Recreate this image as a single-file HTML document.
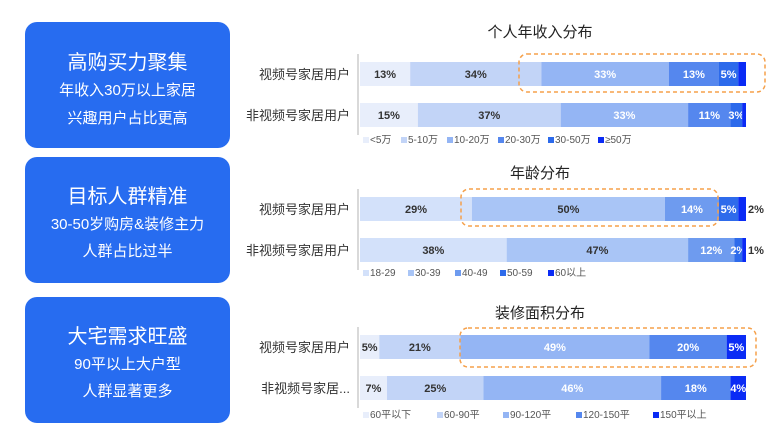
<!DOCTYPE html>
<html><head><meta charset="utf-8"><style>
body{margin:0;width:784px;height:436px;background:#fff;overflow:hidden;font-family:"Liberation Sans","Noto Sans CJK SC",sans-serif;position:relative}
.card{position:absolute;left:25px;width:205px;height:126px;background:#276CF0;border-radius:12px;color:#fff;text-align:center}
.card .t{position:absolute;left:0;right:0;font-size:20px}
.card .s{position:absolute;left:0;right:0;font-size:15px}
svg{position:absolute;left:0;top:0}
</style></head><body>
<div class="card" style="top:22px"><div class="t" style="top:24px">高购买力聚集</div><div class="s" style="top:57px">年收入30万以上家居</div><div class="s" style="top:85px">兴趣用户占比更高</div></div>
<div class="card" style="top:157px"><div class="t" style="top:23px">目标人群精准</div><div class="s" style="top:56px">30-50岁购房&amp;装修主力</div><div class="s" style="top:83px">人群占比过半</div></div>
<div class="card" style="top:297px"><div class="t" style="top:23px">大宅需求旺盛</div><div class="s" style="top:56px">90平以上大户型</div><div class="s" style="top:83px">人群显著更多</div></div>
<svg id="c" width="784" height="436"></svg>
<script>
const rows=["视频号家居用户","非视频号家居用户"];
const rows3=["视频号家居用户","非视频号家居..."];
const incomeCats=["<5万","5-10万","10-20万","20-30万","30-50万","≥50万"];
const incomeA=[13,34,33,13,5,2];
const incomeB=[15,37,33,11,3,1];
const ageCats=["18-29","30-39","40-49","50-59","60以上"];
const ageA=[29,50,14,5,2];
const ageB=[38,47,12,2,1];
const areaCats=["60平以下","60-90平","90-120平","120-150平","150平以上"];
const areaA=[5,21,49,20,5];
const areaB=[7,25,46,18,4];
const NS="http://www.w3.org/2000/svg";
const svg=document.getElementById('c');
function el(t,a,p){const e=document.createElementNS(NS,t);for(const k in a)e.setAttribute(k,a[k]);(p||svg).appendChild(e);return e;}
function txt(x,y,s,a){const e=el('text',Object.assign({x:x,y:y},a));e.textContent=s;return e;}
const charts=[
{title:"个人年收入分布",ty:37,cats:incomeCats,data:[incomeA,incomeB],labels:rows,rowY:[62,103],h:24,legY:143,legX:[363,401,447,498,548,598],
 colors:["#E8EEFB","#C2D4F7","#94B5F4","#5587EE","#2C6AEB","#0A2BF5"],dark:[1,1,0,0,0,0],minLbl:3,outside:false,box:[519,54,246,38],name:"income"},
{title:"年龄分布",ty:178,cats:ageCats,data:[ageA,ageB],labels:rows,rowY:[197,238],h:24,legY:276,legX:[363,408,455,500,548],
 colors:["#D3E1FA","#A9C5F6","#6E9BEF","#2E6BEB","#0A2BF5"],dark:[1,1,0,0,0],minLbl:3,outside:true,box:[461,189,257,37],name:"age"},
{title:"装修面积分布",ty:318,cats:areaCats,data:[areaA,areaB],labels:rows3,rowY:[335,376],h:24,legY:418,legX:[363,437,503,576,653],
 colors:["#E8EEFB","#C2D4F7","#94B5F4","#5587EE","#0A2BF5"],dark:[1,1,0,0,0],minLbl:3,outside:false,box:[460,328,296,39],name:"area"}];
const X0=360,X1=746;
charts.forEach(c=>{
 const t=txt(540,c.ty,c.title,{'font-size':15,fill:'#222','text-anchor':'middle'});
 
 
 const ax=el('line',{x1:358,x2:358,y1:c.rowY[0]-8,y2:c.rowY[1]+c.h+8,stroke:'#ccc','stroke-width':1.5});
 
 
 c.data.forEach((vals,r)=>{
  const tot=vals.reduce((a,b)=>a+b,0);
  const sx=v=>v/tot*(X1-X0);
  const y=c.rowY[r];
  const rl=txt(350,y+c.h/2+5,c.labels[r],{'font-size':13,fill:'#333','text-anchor':'end'});
  
  
  let x=X0;
  vals.forEach((v,i)=>{
   const w=sx(v);
   const b=el('rect',{x:x,y:y,width:w,height:c.h,fill:c.colors[i]});
   
   
   const last=i===vals.length-1;
   if(c.outside&&last){
    const l=txt(x+w+2,y+c.h/2+4,v+'%',{'font-size':11,'font-weight':'bold',fill:'#333'});
    
    
   } else if(v>=c.minLbl||(c.name!=='income'&&v>=2)){
    const l=txt(x+w/2,y+c.h/2+4,v+'%',{'font-size':11,'font-weight':'bold',fill:c.dark[i]?'#333':'#fff','text-anchor':'middle'});
    
    
   }
   x+=w;
  });
 });
 c.cats.forEach((k,i)=>{
  const s=el('rect',{x:c.legX[i],y:c.legY-6,width:6,height:6,fill:c.colors[i]});
  
  
  const l=txt(c.legX[i]+7,c.legY,k,{'font-size':10,fill:'#555'});
  
  
 });
 const b=c.box;
 const r=el('rect',{x:b[0],y:b[1],width:b[2],height:b[3],rx:8,fill:'none',stroke:'#F5A04A','stroke-width':1.5,'stroke-dasharray':'4 3'});
 
 
});
</script>
</body></html>
